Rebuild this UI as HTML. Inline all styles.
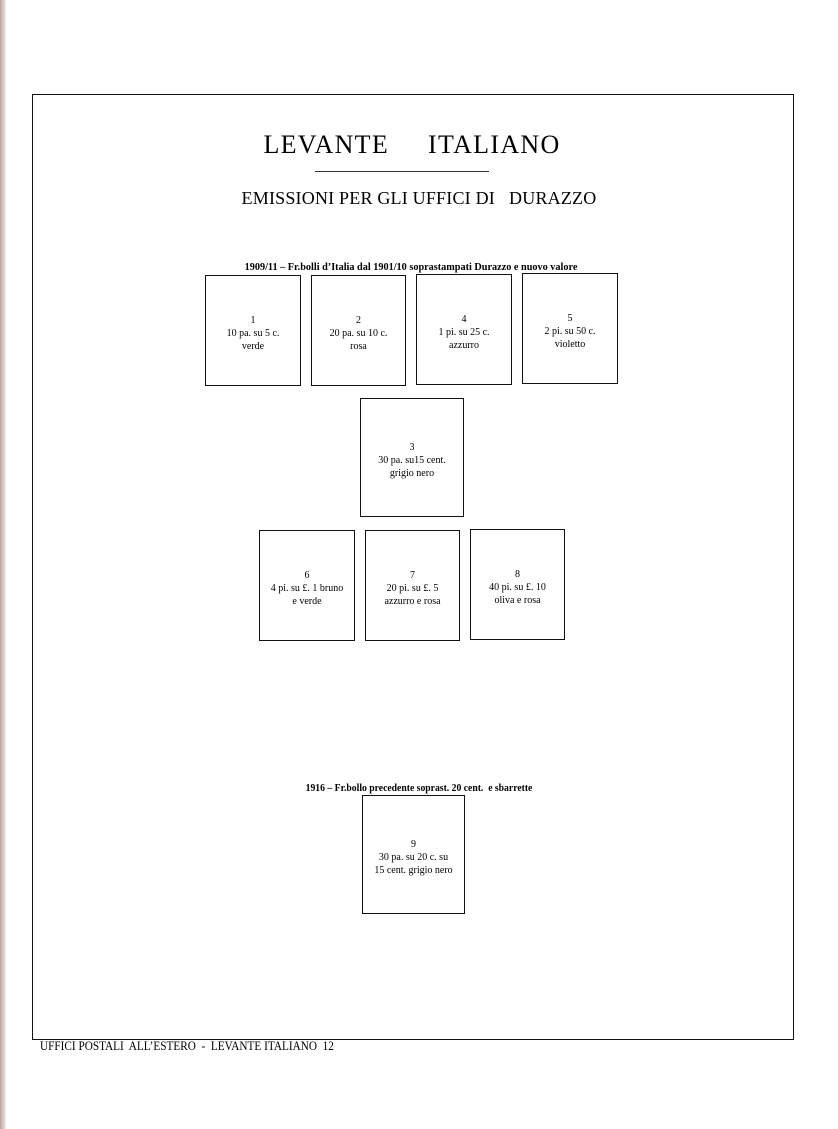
<!DOCTYPE html>
<html><head><meta charset="utf-8"><style>
body{margin:0;width:838px;height:1129px;background:#fff;position:relative;overflow:hidden;font-family:"Liberation Serif",serif;color:#000}
.a{position:absolute}
.b{position:absolute;border:1.5px solid #111;box-sizing:border-box;display:flex;align-items:center;justify-content:center;text-align:center;font-size:10px;line-height:13px;padding-top:6px}
.c{position:absolute;width:838px;left:0;text-align:center;white-space:nowrap}
</style></head><body>
<div class="a" style="left:0;top:0;width:6px;height:1129px;background:linear-gradient(90deg,#b9a39a,#eee)"></div>
<div class="a" style="left:32px;top:94px;width:762px;height:946px;border:1.5px solid #111;box-sizing:border-box"></div>
<div class="c" style="left:-7px;top:130px;font-size:26px;letter-spacing:1.3px">LEVANTE&nbsp;&nbsp;&nbsp;&nbsp;&nbsp;ITALIANO</div>
<div class="a" style="left:315px;top:171px;width:174px;border-top:1px solid #333"></div>
<div class="c" style="top:188px;font-size:18px;letter-spacing:0.2px">EMISSIONI PER GLI UFFICI DI&nbsp;&nbsp; DURAZZO</div>
<div class="c" style="top:261px;font-size:11px;left:-8px;font-weight:bold;transform:scaleX(0.93)">1909/11 – Fr.bolli d’Italia dal 1901/10 soprastampati Durazzo e nuovo valore</div>
<div class="b" style="left:205px;top:275px;width:96px;height:111px">1<br>10 pa. su 5 c.<br>verde</div>
<div class="b" style="left:311px;top:275px;width:95px;height:111px">2<br>20 pa. su 10 c.<br>rosa</div>
<div class="b" style="left:416px;top:274px;width:96px;height:111px">4<br>1 pi. su 25 c.<br>azzurro</div>
<div class="b" style="left:522px;top:273px;width:96px;height:111px">5<br>2 pi. su 50 c.<br>violetto</div>
<div class="b" style="left:360px;top:398px;width:104px;height:119px">3<br>30 pa. su15 cent.<br>grigio nero</div>
<div class="b" style="left:259px;top:530px;width:96px;height:111px">6<br>4 pi. su £. 1 bruno<br>e verde</div>
<div class="b" style="left:365px;top:530px;width:95px;height:111px">7<br>20 pi. su £. 5<br>azzurro e rosa</div>
<div class="b" style="left:470px;top:529px;width:95px;height:111px">8<br>40 pi. su £. 10<br>oliva e rosa</div>
<div class="c" style="top:782px;font-size:11px;left:0;font-weight:bold;transform:scaleX(0.88)">1916 – Fr.bollo precedente soprast. 20 cent.&nbsp; e sbarrette</div>
<div class="b" style="left:362px;top:795px;width:103px;height:119px">9<br>30 pa. su 20 c. su<br>15 cent. grigio nero</div>
<div class="a" style="left:40px;top:1039px;font-size:12.5px;white-space:nowrap;transform:scaleX(0.9);transform-origin:left">UFFICI POSTALI&nbsp; ALL’ESTERO&nbsp; -&nbsp; LEVANTE ITALIANO&nbsp; 12</div>
</body></html>
